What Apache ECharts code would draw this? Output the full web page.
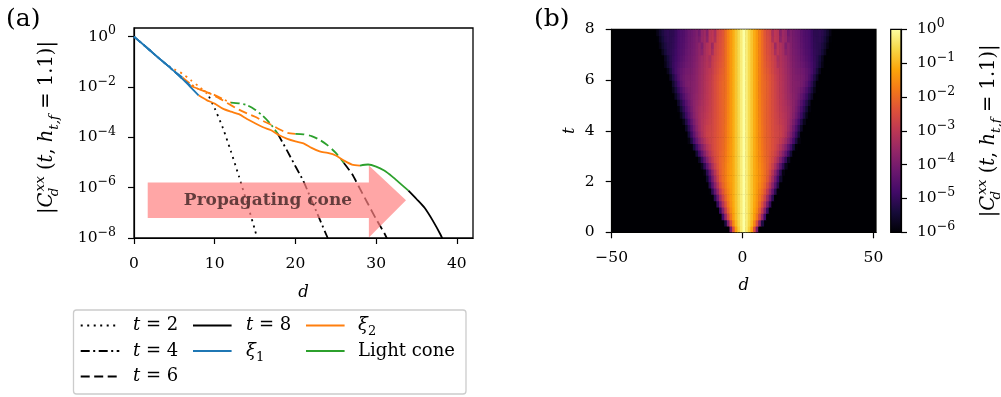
<!DOCTYPE html>
<html><head><meta charset="utf-8">
<script src="https://cdn.jsdelivr.net/npm/echarts@6/dist/echarts.min.js"></script>
<style>html,body{margin:0;padding:0;background:#fff}#c{width:1001px;height:397px}</style>
</head><body><div id="c"></div>
<script>
// ================= DATA =================
// Panel (a): |C_d^xx| curves, stored as log10 exponents
const d_t2 = [0,1,2,3,4,5,6,7,8,9,9.3,10,11,12,13,14,15,15.5];
const e_t2 = [0,-0.27,-0.55,-0.83,-1.1,-1.3,-1.47,-1.72,-1.97,-2.25,-2.38,-2.85,-3.62,-4.55,-5.55,-6.6,-7.7,-8.3];
const d_t4 = [0,1,2,3,4,5,6,7,8,9,10,11,12,13,14,15,16,17,17.8,19,20,21,22,23,24,24.3];
const e_t4 = [0,-0.27,-0.55,-0.83,-1.1,-1.38,-1.62,-1.88,-2.08,-2.2,-2.32,-2.48,-2.62,-2.65,-2.72,-2.9,-3.16,-3.5,-3.85,-4.55,-5.15,-5.75,-6.5,-7.25,-8.0,-8.2];
const d_t6 = [0,1,2,3,4,5,6,7,8,9,10,11,12,13,14,15,16,17,18,19,20,21,22,23,24,25,26,27,28,29,30,31,31.6];
const e_t6 = [0,-0.27,-0.55,-0.83,-1.1,-1.38,-1.68,-1.95,-2.08,-2.2,-2.35,-2.53,-2.72,-2.9,-3.05,-3.18,-3.35,-3.5,-3.68,-3.82,-3.86,-3.88,-3.95,-4.1,-4.32,-4.62,-5.02,-5.45,-6.05,-6.65,-7.25,-7.8,-8.2];
const d_t8 = [0,1,2,3,4,5,6,7,8,9,10,11,12,13,14,15,16,17,18,19,20,21,22,23,24,25,26,27,28,29,30,31,32,33,34,35,36,37,38,38.3];
const e_t8 = [0,-0.27,-0.55,-0.83,-1.1,-1.38,-1.68,-2.0,-2.33,-2.52,-2.66,-2.86,-2.98,-3.08,-3.27,-3.44,-3.6,-3.72,-3.92,-4.06,-4.16,-4.24,-4.42,-4.56,-4.62,-4.72,-4.92,-5.08,-5.12,-5.08,-5.16,-5.32,-5.56,-5.84,-6.12,-6.45,-6.8,-7.3,-7.88,-8.1];
// regime boundaries per curve (t = 2, 4, 6, 8)
const xi1  = [5, 6, 7, 8];
const xi2  = [9.3, 12, 20, 28];
const cone = [null, 17.8, 26, 34];
const xTicksA = [0, 10, 20, 30, 40];
const yExpTicksA = [-8, -6, -4, -2, 0];
// arrow annotation (data coordinates: d, log10 exponent)
const arrowD = [1.7, 29.1, 33.7];               // tail, head base, tip
const arrowE = [-5.12, -5.79, -6.5, -7.21, -7.98]; // head top, body top, tip, body bottom, head bottom
const arrowTextPos = [16.6, -6.5];

// Panel (b): heat map rows (t from heatT to heatT+0.25), log10 values at d = 0,1,2,... (mirrored for d<0)
const heatT = [0,0.25,0.5,0.75,1,1.25,1.5,1.75,2,2.25,2.5,2.75,3,3.25,3.5,3.75,4,4.25,4.5,4.75,5,5.25,5.5,5.75,6,6.25,6.5,6.75,7,7.25,7.5,7.75];
const heatRows = [
 [0,-0.32,-0.72,-1.3,-2.4,-4.0,-6.0],
 [0,-0.28,-0.6,-1.0,-1.6,-2.5,-3.8,-5.3,-6.8],
 [0,-0.27,-0.57,-0.9,-1.3,-1.85,-2.6,-3.6,-4.8,-6.1],
 [0,-0.27,-0.56,-0.87,-1.2,-1.6,-2.15,-2.9,-3.85,-4.95,-6.1],
 [0,-0.27,-0.55,-0.85,-1.15,-1.48,-1.9,-2.45,-3.15,-4.0,-4.95,-6.0],
 [0,-0.27,-0.55,-0.84,-1.12,-1.42,-1.75,-2.15,-2.7,-3.4,-4.2,-5.1,-6.05],
 [0,-0.27,-0.55,-0.83,-1.1,-1.38,-1.65,-1.95,-2.35,-2.9,-3.55,-4.3,-5.1,-5.95,-6.8],
 [0,-0.27,-0.55,-0.83,-1.1,-1.33,-1.55,-1.82,-2.12,-2.55,-3.1,-3.75,-4.45,-5.2,-6.0],
 [0,-0.27,-0.55,-0.83,-1.1,-1.3,-1.48,-1.74,-1.99,-2.3,-2.78,-3.38,-4.05,-4.8,-5.55,-6.35],
 [0,-0.27,-0.55,-0.83,-1.1,-1.3,-1.48,-1.72,-1.96,-2.2,-2.58,-3.1,-3.7,-4.38,-5.1,-5.85,-6.6],
 [0,-0.27,-0.55,-0.83,-1.1,-1.32,-1.5,-1.74,-1.96,-2.16,-2.42,-2.8,-3.25,-3.8,-4.4,-5.05,-5.7,-6.4],
 [0,-0.27,-0.55,-0.83,-1.1,-1.34,-1.54,-1.77,-1.98,-2.14,-2.35,-2.6,-2.95,-3.35,-3.85,-4.4,-5.0,-5.65,-6.3],
 [0,-0.27,-0.55,-0.83,-1.1,-1.35,-1.56,-1.81,-2.01,-2.16,-2.32,-2.52,-2.75,-3.05,-3.4,-3.82,-4.3,-4.85,-5.45,-6.05],
 [0,-0.27,-0.55,-0.83,-1.1,-1.36,-1.58,-1.84,-2.04,-2.18,-2.3,-2.46,-2.64,-2.88,-3.12,-3.45,-3.85,-4.3,-4.82,-5.38,-5.95,-6.6],
 [0,-0.27,-0.55,-0.83,-1.1,-1.37,-1.6,-1.86,-2.06,-2.19,-2.3,-2.46,-2.6,-2.72,-2.9,-3.15,-3.45,-3.82,-4.25,-4.75,-5.3,-5.85,-6.45],
 [0,-0.27,-0.55,-0.83,-1.1,-1.38,-1.61,-1.87,-2.07,-2.2,-2.31,-2.48,-2.61,-2.67,-2.76,-2.95,-3.22,-3.55,-3.92,-4.38,-4.9,-5.45,-6.0,-6.65],
 [0,-0.27,-0.55,-0.83,-1.1,-1.38,-1.62,-1.88,-2.08,-2.21,-2.33,-2.49,-2.63,-2.7,-2.8,-2.95,-3.15,-3.42,-3.75,-4.15,-4.6,-5.1,-5.62,-6.2],
 [0,-0.27,-0.55,-0.83,-1.1,-1.38,-1.63,-1.9,-2.1,-2.22,-2.34,-2.5,-2.65,-2.76,-2.88,-3.0,-3.15,-3.38,-3.65,-3.98,-4.35,-4.78,-5.25,-5.75,-6.3],
 [0,-0.27,-0.55,-0.83,-1.1,-1.38,-1.64,-1.91,-2.1,-2.22,-2.35,-2.51,-2.67,-2.8,-2.92,-3.05,-3.18,-3.34,-3.56,-3.82,-4.12,-4.48,-4.88,-5.3,-5.75,-6.25],
 [0,-0.27,-0.55,-0.83,-1.1,-1.38,-1.65,-1.92,-2.1,-2.22,-2.35,-2.52,-2.69,-2.84,-2.97,-3.1,-3.22,-3.36,-3.54,-3.76,-4.02,-4.33,-4.68,-5.05,-5.45,-5.88,-6.35],
 [0,-0.27,-0.55,-0.83,-1.1,-1.38,-1.66,-1.93,-2.09,-2.21,-2.35,-2.53,-2.7,-2.86,-3.0,-3.13,-3.27,-3.42,-3.58,-3.74,-3.94,-4.2,-4.5,-4.85,-5.2,-5.58,-6.0,-6.45],
 [0,-0.27,-0.55,-0.83,-1.1,-1.38,-1.67,-1.94,-2.08,-2.2,-2.35,-2.53,-2.71,-2.88,-3.02,-3.15,-3.32,-3.47,-3.62,-3.76,-3.9,-4.08,-4.3,-4.58,-4.9,-5.25,-5.62,-6.05,-6.5],
 [0,-0.27,-0.55,-0.83,-1.1,-1.38,-1.68,-1.95,-2.08,-2.2,-2.35,-2.53,-2.72,-2.89,-3.04,-3.17,-3.34,-3.49,-3.66,-3.79,-3.89,-3.99,-4.15,-4.38,-4.66,-4.98,-5.35,-5.75,-6.2],
 [0,-0.27,-0.55,-0.83,-1.1,-1.38,-1.68,-1.95,-2.08,-2.2,-2.35,-2.53,-2.72,-2.9,-3.05,-3.18,-3.35,-3.5,-3.68,-3.81,-3.87,-3.92,-4.02,-4.2,-4.44,-4.75,-5.12,-5.52,-5.98,-6.5],
 [0,-0.27,-0.55,-0.83,-1.1,-1.38,-1.68,-1.96,-2.12,-2.24,-2.38,-2.56,-2.76,-2.92,-3.06,-3.2,-3.36,-3.51,-3.69,-3.83,-3.91,-3.96,-4.02,-4.14,-4.3,-4.56,-4.9,-5.25,-5.65,-6.1],
 [0,-0.27,-0.55,-0.83,-1.1,-1.38,-1.68,-1.97,-2.17,-2.3,-2.45,-2.63,-2.83,-2.97,-3.1,-3.24,-3.4,-3.54,-3.72,-3.87,-3.98,-4.03,-4.09,-4.19,-4.34,-4.5,-4.72,-5.0,-5.35,-5.75,-6.2],
 [0,-0.27,-0.55,-0.83,-1.1,-1.38,-1.68,-1.98,-2.21,-2.36,-2.5,-2.68,-2.86,-3.2,-3.14,-3.28,-3.43,-3.58,-3.76,-3.91,-4.02,-4.1,-4.18,-4.3,-4.44,-4.58,-4.76,-4.95,-5.18,-5.45,-5.78,-6.15],
 [0,-0.27,-0.55,-0.83,-1.1,-1.38,-1.68,-1.99,-2.24,-2.4,-2.54,-2.73,-2.9,-3.3,-3.17,-3.32,-3.46,-3.62,-3.8,-3.94,-4.06,-4.14,-4.25,-4.4,-4.52,-4.64,-4.82,-4.98,-5.15,-5.38,-5.68,-6.05,-6.45],
 [0,-0.27,-0.55,-0.83,-1.1,-1.38,-1.68,-2.0,-2.27,-2.44,-2.58,-2.78,-3.3,-3.03,-3.19,-3.36,-3.75,-3.64,-3.84,-4.0,-4.09,-4.18,-4.31,-4.47,-4.57,-4.67,-4.85,-5.0,-5.1,-5.2,-5.4,-5.68,-6.0,-6.4],
 [0,-0.27,-0.55,-0.83,-1.1,-1.38,-1.68,-2.0,-2.29,-2.47,-2.61,-2.82,-3.45,-3.06,-3.21,-3.39,-3.9,-3.66,-3.87,-4.03,-4.11,-4.21,-4.36,-4.52,-4.6,-4.7,-4.9,-5.04,-5.12,-5.16,-5.3,-5.52,-5.82,-6.18,-6.6],
 [0,-0.27,-0.55,-0.83,-1.1,-1.38,-1.68,-2.0,-2.31,-2.5,-2.64,-3.2,-2.97,-3.07,-3.7,-3.42,-3.58,-3.95,-3.9,-4.05,-4.14,-4.23,-4.4,-4.55,-4.61,-4.71,-4.91,-5.06,-5.12,-5.1,-5.2,-5.4,-5.66,-5.96,-6.3],
 [0,-0.27,-0.55,-0.83,-1.1,-1.38,-1.68,-2.0,-2.34,-2.53,-2.67,-3.3,-2.99,-3.09,-3.8,-3.45,-3.61,-4.1,-3.93,-4.07,-4.17,-4.25,-4.43,-4.57,-4.63,-4.73,-4.93,-5.09,-5.12,-5.07,-5.14,-5.3,-5.52,-5.78,-6.05,-6.4]
];
const xTicksB = [-50, 0, 50];
const yTicksB = [0, 2, 4, 6, 8];
const cbExpTicks = [-6, -5, -4, -3, -2, -1, 0];

// ================= STYLE =================
const FONT = 'DejaVu Serif';
const FS = 15.5, FSS = 12.5;        // tick labels
const NFS = 19.5, NFSS = 13.5;      // long axis names
const LFS = 18, LFSS = 13;          // legend
const BLUE = '#1f77b4', ORANGE = '#ff7f0e', GREEN = '#2ca02c', BLACK = '#000000';
const DASHES = [[2, 4.5], [9, 3.5, 2, 3.5], [9, 4.5], 'solid'];
const INFERNO = ['#000004','#160b39','#420a68','#6a176e','#932667','#bc3754','#dd513a','#f37819','#fca50a','#f6d746','#fcffa4'];
function hex(c){return [parseInt(c.slice(1,3),16),parseInt(c.slice(3,5),16),parseInt(c.slice(5,7),16)];}
function inferno(f){
  f = Math.max(0, Math.min(1, f));
  const p = f*10, i = Math.min(9, Math.floor(p)), u = p - i;
  const a = hex(INFERNO[i]), b = hex(INFERNO[i+1]);
  return 'rgb(' + a.map((v,k)=>Math.round(v+(b[k]-v)*u)).join(',') + ')';
}
const SUPMINUS = '\u2212';
function powLabel(v){
  const e = Math.round(Math.log10(v));
  return '{b|10}{s|' + (e < 0 ? SUPMINUS + (-e) : String(e)) + '}';
}
const powRich = {
  b: {fontSize: FS, fontFamily: FONT, color: '#000', lineHeight: 24},
  s: {fontSize: FSS, fontFamily: FONT, color: '#000', lineHeight: 12, verticalAlign: 'top'}
};
function makeMathRich(s, ss, lh) {
  return {
    r: {fontSize: s, fontFamily: FONT, color: '#000', lineHeight: lh},
    i: {fontSize: s, fontFamily: FONT, fontStyle: 'italic', color: '#000', lineHeight: lh},
    sup: {fontSize: ss, fontFamily: FONT, fontStyle: 'italic', color: '#000', lineHeight: ss, verticalAlign: 'top'},
    sub: {fontSize: ss, fontFamily: FONT, fontStyle: 'italic', color: '#000', lineHeight: ss + 5, verticalAlign: 'bottom'},
    subn: {fontSize: ss, fontFamily: FONT, color: '#000', lineHeight: ss + 5, verticalAlign: 'bottom'},
    subs: {fontSize: ss, fontFamily: FONT, fontStyle: 'italic', color: '#000', lineHeight: ss + 5, verticalAlign: 'bottom', width: 1}
  };
}
const nameRich = makeMathRich(NFS, NFSS, 28);
const legendRich = makeMathRich(LFS, LFSS, 26);
const C_LABEL = '{r||}{i|C}{subs|d}{sup|xx}{r| (}{i|t}{r|, }{i|h}{sub|t,f}{r| = 1.1)|}';

// ================= BUILD =================
const curves = [
  {d: d_t2, e: e_t2, b: [xi1[0], xi2[0]], c: [BLUE, ORANGE, BLACK]},
  {d: d_t4, e: e_t4, b: [xi1[1], xi2[1], cone[1]], c: [BLUE, ORANGE, GREEN, BLACK]},
  {d: d_t6, e: e_t6, b: [xi1[2], xi2[2], cone[2]], c: [BLUE, ORANGE, GREEN, BLACK]},
  {d: d_t8, e: e_t8, b: [xi1[3], xi2[3], cone[3]], c: [BLUE, ORANGE, GREEN, BLACK]}
];
const series = [];
curves.forEach((cv, ci) => {
  const edges = [cv.d[0]].concat(cv.b, [cv.d[cv.d.length-1]]);
  for (let s = 0; s < edges.length-1; s++) {
    const pts = [];
    cv.d.forEach((dv, k) => { if (dv >= edges[s] && dv <= edges[s+1]) pts.push([dv, Math.pow(10, cv.e[k])]); });
    series.push({
      type: 'line', xAxisIndex: 0, yAxisIndex: 0, data: pts, symbol: 'none', smooth: 0.25,
      z: cv.c[s] === BLUE ? 4 : 3, silent: true,
      lineStyle: {color: cv.c[s], width: 1.8, type: DASHES[ci], cap: 'butt'}
    });
  }
});
// arrow annotation
series.push({
  type: 'custom', xAxisIndex: 0, yAxisIndex: 0, z: 10, clip: false, silent: true,
  data: [[arrowTextPos[0], Math.pow(10, arrowTextPos[1])]],
  renderItem: function (params, api) {
    const P = (d, e) => api.coord([d, Math.pow(10, e)]);
    const [tail, base, tip] = arrowD;
    const [hT, bT, tE, bB, hB] = arrowE;
    const pts = [P(tail,bT), P(base,bT), P(base,hT), P(tip,tE), P(base,hB), P(base,bB), P(tail,bB)];
    const tp = P(arrowTextPos[0], arrowTextPos[1]);
    return {type: 'group', children: [
      {type: 'polygon', shape: {points: pts}, style: {fill: 'rgba(255,128,128,0.7)'}},
      {type: 'text', x: tp[0], y: tp[1], style: {text: 'Propagating cone', fontFamily: 'DejaVu Serif', fontWeight: 'bold', fontSize: 17, fill: 'rgba(40,20,20,0.72)', align: 'center', verticalAlign: 'middle'}}
    ]};
  }
});
// heat map cells
const heatCells = [];
heatRows.forEach((row, r) => {
  for (let k = -(row.length-1); k <= row.length-1; k++) {
    const v = row[Math.abs(k)];
    if (v > -6.3) heatCells.push([k, heatT[r], v]);
  }
});
const DT = 0.25, CW = 1;
series.push({
  type: 'custom', xAxisIndex: 1, yAxisIndex: 1, z: 2, clip: true, silent: true,
  data: heatCells,
  renderItem: function (params, api) {
    const x0 = api.value(0), t0 = api.value(1), v = api.value(2);
    const a = api.coord([x0, t0 + DT]), b = api.coord([x0 + CW, t0]);
    return {type: 'rect', shape: {x: a[0], y: a[1], width: b[0]-a[0]+0.6, height: b[1]-a[1]+0.6},
      style: {fill: inferno((v + 6) / 6)}};
  }
});

const axisLineBlack = {show: true, onZero: false, lineStyle: {color: '#000', width: 1.2}};
const tickStyle = (vals) => ({show: true, length: 6, inside: false, lineStyle: {color: '#000', width: 1.2}, customValues: vals});
const labelBase = {color: '#000', fontSize: FS, fontFamily: FONT};
const nameStyle = {fontStyle: 'italic', fontSize: 16.5, fontFamily: FONT, color: '#000'};

const option = {
  animation: false,
  backgroundColor: '#fff',
  textStyle: {fontFamily: FONT, color: '#000'},
  grid: [
    {left: 134, top: 28, width: 339, height: 210, show: true, borderColor: '#000', borderWidth: 1.3, backgroundColor: 'transparent', containLabel: false, outerBoundsMode: 'none'},
    {left: 611.7, top: 29.3, width: 264.3, height: 203, show: true, borderColor: '#000', borderWidth: 1.2, backgroundColor: '#000004', containLabel: false, outerBoundsMode: 'none'},
    {left: 890.7, top: 29.3, width: 10.3, height: 203, show: true, borderColor: '#000', borderWidth: 1.2, containLabel: false, outerBoundsMode: 'none',
      backgroundColor: {type: 'linear', x: 0, y: 1, x2: 0, y2: 0, colorStops: INFERNO.map((c, i) => ({offset: i/10, color: c}))}}
  ],
  xAxis: [
    {gridIndex: 0, type: 'value', min: 0, max: 42, axisLine: axisLineBlack, axisTick: tickStyle(xTicksA),
     axisLabel: Object.assign({customValues: xTicksA, margin: 18}, labelBase), splitLine: {show: false},
     name: 'd', nameLocation: 'middle', nameGap: 46, nameTextStyle: nameStyle},
    {gridIndex: 1, type: 'value', min: -50, max: 51, axisLine: axisLineBlack, axisTick: tickStyle(xTicksB),
     axisLabel: Object.assign({customValues: xTicksB, margin: 18, formatter: v => String(v).replace('-', '\u2212')}, labelBase), splitLine: {show: false},
     name: 'd', nameLocation: 'middle', nameGap: 45, nameTextStyle: nameStyle},
    {gridIndex: 2, type: 'value', min: 0, max: 1, show: false}
  ],
  yAxis: [
    {gridIndex: 0, type: 'log', logBase: 10, min: 1e-8, max: Math.pow(10, 0.345),
     axisLine: axisLineBlack, axisTick: tickStyle(yExpTicksA.map(e => Math.pow(10, e))),
     axisLabel: {customValues: yExpTicksA.map(e => Math.pow(10, e)), margin: 18, formatter: powLabel, rich: powRich},
     splitLine: {show: false}, minorTick: {show: false},
     name: C_LABEL, nameLocation: 'middle', nameRotate: 90, nameGap: 73, nameTextStyle: {rich: nameRich, fontSize: NFS, fontFamily: FONT, padding: [0, 0, 0, 11]}},
    {gridIndex: 1, type: 'value', min: 0, max: 8, interval: 2, axisLine: axisLineBlack, axisTick: tickStyle(yTicksB),
     axisLabel: Object.assign({customValues: yTicksB, margin: 17}, labelBase), splitLine: {show: false},
     name: 't', nameLocation: 'middle', nameRotate: 90, nameGap: 33, nameTextStyle: nameStyle},
    {gridIndex: 2, type: 'log', logBase: 10, min: 1e-6, max: 1, position: 'right',
     axisLine: axisLineBlack, axisTick: tickStyle(cbExpTicks.map(e => Math.pow(10, e))),
     axisLabel: {customValues: cbExpTicks.map(e => Math.pow(10, e)), margin: 16, formatter: powLabel, rich: powRich},
     splitLine: {show: false}, minorTick: {show: false},
     name: C_LABEL, nameLocation: 'middle', nameRotate: 90, nameGap: 74, nameTextStyle: {rich: nameRich, fontSize: NFS, fontFamily: FONT}}
  ],
  series: series,
  graphic: (function () {
    const rowY = [325.5, 351, 376.5];
    const sampleX = [80.7, 193, 306];
    const textX = [133, 246, 358];
    const legendItems = [
      {label: '{i|t}{r| = 2}', color: BLACK, dash: DASHES[0], col: 0, row: 0},
      {label: '{i|t}{r| = 4}', color: BLACK, dash: DASHES[1], col: 0, row: 1},
      {label: '{i|t}{r| = 6}', color: BLACK, dash: DASHES[2], col: 0, row: 2},
      {label: '{i|t}{r| = 8}', color: BLACK, dash: null, col: 1, row: 0},
      {label: '{i|ξ}{subn|1}', color: BLUE, dash: null, col: 1, row: 1},
      {label: '{i|ξ}{subn|2}', color: ORANGE, dash: null, col: 2, row: 0},
      {label: '{r|Light cone}', color: GREEN, dash: null, col: 2, row: 1}
    ];
    const children = [{type: 'rect', shape: {x: 73.5, y: 310, width: 392.5, height: 84, r: 3}, style: {fill: '#fff', stroke: '#cccccc', lineWidth: 1.3}}];
    legendItems.forEach(it => {
      children.push({type: 'line', shape: {x1: sampleX[it.col], y1: rowY[it.row], x2: sampleX[it.col] + 38.6, y2: rowY[it.row]},
        style: {stroke: it.color, lineWidth: 2, lineDash: it.dash || null}});
      children.push({type: 'text', x: textX[it.col], y: rowY[it.row],
        style: {text: it.label, rich: legendRich, fontSize: LFS, fontFamily: FONT, fill: '#000', verticalAlign: 'middle', align: 'left'}});
    });
    return [
      {type: 'group', children: children},
      {type: 'text', x: 6, y: 19, style: {text: '(a)', fontSize: 25, fontFamily: FONT, fill: '#000', verticalAlign: 'middle'}},
      {type: 'text', x: 534, y: 19, style: {text: '(b)', fontSize: 25, fontFamily: FONT, fill: '#000', verticalAlign: 'middle'}}
    ];
  })()
};
const chart = echarts.init(document.getElementById('c'), null, {renderer: 'canvas'});
chart.setOption(option);
</script></body></html>
